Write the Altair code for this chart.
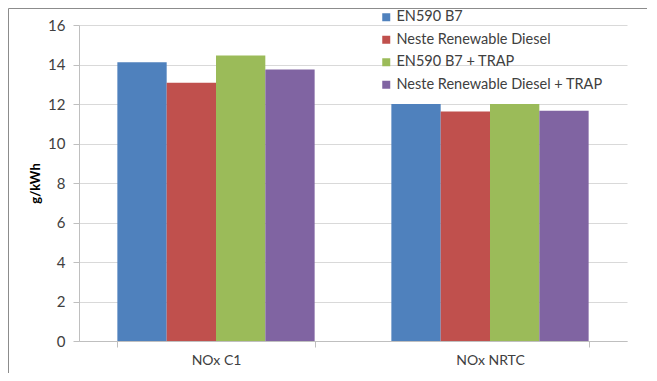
import altair as alt
import pandas as pd

categories = ["NOx C1", "NOx NRTC"]
series = ["EN590 B7", "Neste Renewable Diesel", "EN590 B7 + TRAP", "Neste Renewable Diesel + TRAP"]
colors = ["#4F81BD", "#C0504D", "#9BBB59", "#8064A2"]
values = {
    "EN590 B7": [14.11, 12.0],
    "Neste Renewable Diesel": [13.08, 11.62],
    "EN590 B7 + TRAP": [14.46, 12.0],
    "Neste Renewable Diesel + TRAP": [13.75, 11.66],
}

rows = []
for s in series:
    for c, v in zip(categories, values[s]):
        rows.append({"cat": c, "series": s, "value": v})
df = pd.DataFrame(rows)

FONT = "Lato"

bars = alt.Chart(df).mark_bar().encode(
    x=alt.X("cat:N", sort=categories, title=None,
            scale=alt.Scale(paddingInner=0.28, paddingOuter=0.14),
            axis=alt.Axis(labelAngle=0, tickBand="extent", grid=False,
                          domainColor="#BFBFBF", tickColor="#BFBFBF", tickSize=6,
                          labelPadding=6, labelFontSize=14, labelColor="#404040",
                          labelFont=FONT)),
    xOffset=alt.XOffset("series:N", sort=series),
    y=alt.Y("value:Q", title="g/kWh",
            scale=alt.Scale(domain=[0, 16], nice=False),
            axis=alt.Axis(values=list(range(0, 17, 2)), gridColor="#D9D9D9",
                          domainColor="#BFBFBF", tickColor="#BFBFBF", tickSize=6,
                          labelPadding=8, labelFontSize=15, labelColor="#404040",
                          labelFont=FONT, titleFont=FONT, titleFontSize=13,
                          titleFontWeight="bold", titleColor="#000000",
                          titlePadding=5)),
    color=alt.Color("series:N", sort=series,
                    scale=alt.Scale(domain=series, range=colors),
                    legend=alt.Legend(title=None, orient="none", legendX=300, legendY=-15,
                                      symbolType="square", symbolSize=64,
                                      symbolStrokeWidth=0, labelFontSize=14.5,
                                      labelColor="#404040", labelFont=FONT,
                                      labelLimit=400, rowPadding=7.5, labelOffset=3)),
)

frame_left = alt.Chart(pd.DataFrame({"a": [0]})).mark_rule(color="#8C8C8C", strokeWidth=1).encode(
    x=alt.value(-70.5), y=alt.value(-16.5), y2=alt.value(400))
frame_top = alt.Chart(pd.DataFrame({"a": [0]})).mark_rule(color="#8C8C8C", strokeWidth=1).encode(
    x=alt.value(-70.5), x2=alt.value(700), y=alt.value(-16.5))

chart = alt.layer(bars, frame_left, frame_top).properties(
    width=548, height=316,
    autosize=alt.AutoSizeParams(type="none"),
    padding={"left": 71, "top": 17, "right": 20, "bottom": 32},
).configure_view(stroke=None)

chart.save("out.html", embed_options={"renderer": "svg", "actions": False})
